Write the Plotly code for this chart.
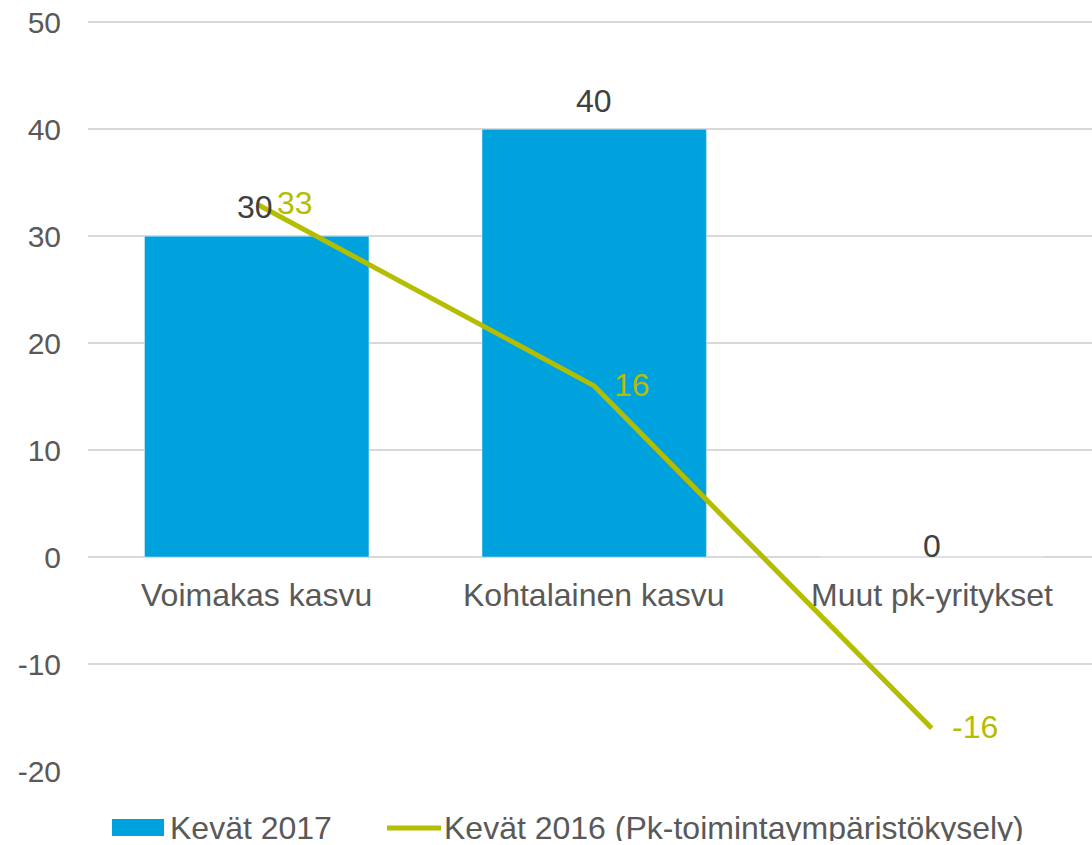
import plotly.graph_objects as go

categories = ["Voimakas kasvu", "Kohtalainen kasvu", "Muut pk-yritykset"]
bar_values = [30, 40, 0]
line_values = [33, 16, -16]
bar_name = "Kevät 2017"
line_name = "Kevät 2016 (Pk-toimintaympäristökysely)"
y_ticks = [-20, -10, 0, 10, 20, 30, 40, 50]
y_tick_text = ["-20", "-10", "0", "10", "20", "30", "40", "50"]

BLUE = "#00A2DE"
GREEN = "#B5BD00"
DARK = "#404040"
GREY = "#595959"
FONT = "Liberation Sans, Arial, sans-serif"
FS = 32

# page-pixel -> paper helpers (plot area spans page x 88..1092, y ~19..771)
def px(xp):
    return (xp - 88) / 1004.0

def py(yp):
    return (771 - yp) / 752.0

x = list(range(len(categories)))

fig = go.Figure()
fig.add_trace(go.Bar(
    x=x, y=bar_values, name=bar_name, marker_color=BLUE, width=0.665,
    showlegend=False, hoverinfo="y",
))
fig.add_trace(go.Scatter(
    x=x, y=line_values, name=line_name, mode="lines",
    line=dict(color=GREEN, width=5), showlegend=False, cliponaxis=False,
))

# bar value labels
bar_label_shift = [29, 28, 11]
for i, v in enumerate(bar_values):
    fig.add_annotation(x=i, y=v, text=str(v), showarrow=False, yanchor="middle",
                       xshift=-2 if i == 0 else 0, yshift=bar_label_shift[i],
                       font=dict(size=FS, color=DARK, family=FONT))

# line value labels
for i, v in enumerate(line_values):
    fig.add_annotation(x=i, y=v, text=str(v), showarrow=False, xanchor="left",
                       yanchor="middle", xshift=18, yshift=1,
                       font=dict(size=FS, color=GREEN, family=FONT))

# category labels at the zero line
for i, c in enumerate(categories):
    fig.add_annotation(x=i, y=0, text=c, showarrow=False, yanchor="middle",
                       yshift=-38, font=dict(size=FS, color=GREY, family=FONT))

# legend (drawn manually to match rectangular swatch)
fig.add_shape(type="rect", xref="paper", yref="paper",
              x0=px(112), x1=px(164), y0=py(836), y1=py(819),
              fillcolor=BLUE, line=dict(width=0))
fig.add_annotation(xref="paper", yref="paper", x=px(168), y=py(828), text=bar_name,
                   showarrow=False, xanchor="left", yanchor="middle", height=26,
                   font=dict(size=FS, color=GREY, family=FONT))
fig.add_shape(type="line", xref="paper", yref="paper",
              x0=px(387), x1=px(441), y0=py(828), y1=py(828),
              line=dict(color=GREEN, width=5))
fig.add_annotation(xref="paper", yref="paper", x=px(442), y=py(828), text=line_name,
                   showarrow=False, xanchor="left", yanchor="middle", height=26,
                   font=dict(size=FS, color=GREY, family=FONT))

fig.update_layout(
    width=1092, height=845,
    margin=dict(l=88, r=0, t=19, b=74),
    plot_bgcolor="white", paper_bgcolor="white",
    font=dict(family=FONT, size=FS, color=GREY),
    showlegend=False,
)
fig.update_xaxes(range=[-0.5, 2.475], showticklabels=False, showgrid=False,
                 zeroline=False, showline=False, automargin=False)
fig.update_yaxes(range=[-20, 50.3], tickvals=y_ticks, ticktext=y_tick_text,
                 showgrid=True, gridcolor="#D9D9D9", gridwidth=1.5,
                 zeroline=True, zerolinecolor="#D9D9D9", zerolinewidth=1.5,
                 tickfont=dict(size=30, color=GREY, family=FONT), ticks="",
                 ticklabelstandoff=26, ticklabeloverflow="allow", automargin=False)

fig.write_html("out.html", config={"displayModeBar": False},
               post_script="document.body.style.margin='0';document.body.style.overflow='hidden';")
